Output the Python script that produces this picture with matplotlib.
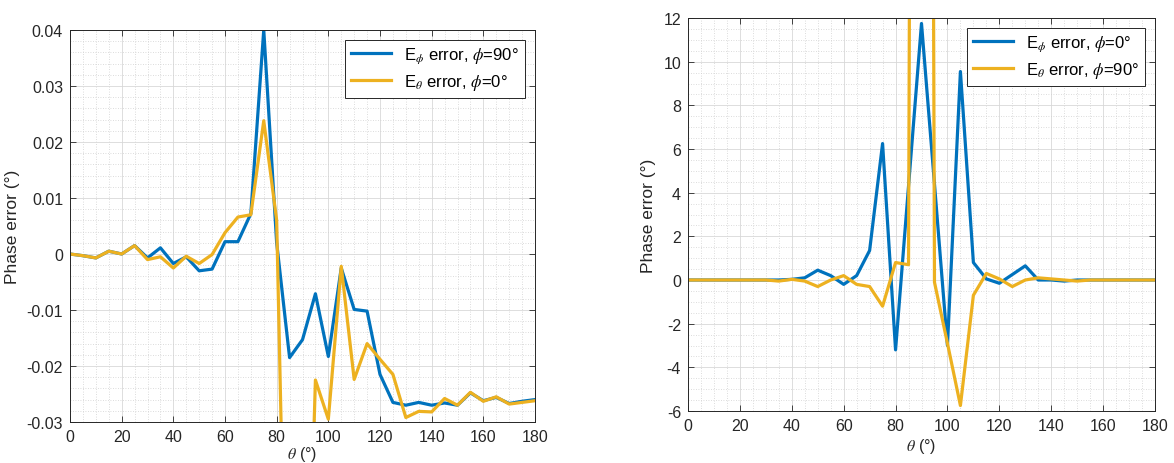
import matplotlib
matplotlib.use("Agg")
import matplotlib.pyplot as plt
from matplotlib.ticker import MultipleLocator, FuncFormatter

plt.rcParams["font.family"] = ["Liberation Sans", "DejaVu Sans"]
plt.rcParams["mathtext.fontset"] = "stix"
plt.rcParams["axes.unicode_minus"] = False

BLUE = "#0072BD"
ORANGE = "#EDB120"
INK = "#262626"

theta = [0, 5, 10, 15, 20, 25, 30, 35, 40, 45, 50, 55, 60, 65, 70, 75, 80, 85,
         90, 95, 100, 105, 110, 115, 120, 125, 130, 135, 140, 145, 150, 155,
         160, 165, 170, 175, 180]

# left panel: E_phi at phi=90, E_theta at phi=0
left_ephi = [0.0, -0.0003, -0.0007, 0.0005, 0.0, 0.0015, -0.0007, 0.0011,
             -0.0017, -0.0005, -0.0030, -0.0027, 0.0022, 0.0022, 0.0072,
             0.0400, 0.0020, -0.0185, -0.0153, -0.0071, -0.0183, -0.0025,
             -0.0099, -0.0102, -0.0215, -0.0265, -0.0270, -0.0265, -0.0270,
             -0.0266, -0.0270, -0.0248, -0.0262, -0.0256, -0.0267, -0.0263,
             -0.0260]
left_etheta = [0.0, -0.0003, -0.0007, 0.0005, 0.0, 0.0015, -0.0010, -0.0005,
               -0.0025, -0.0004, -0.0017, -0.0001, 0.0038, 0.0066, 0.0070,
               0.0238, 0.0060, -0.1000, -0.1000, -0.0225, -0.0295, -0.0022,
               -0.0224, -0.0160, -0.0188, -0.0215, -0.0292, -0.0281, -0.0282,
               -0.0258, -0.0270, -0.0247, -0.0263, -0.0255, -0.0268, -0.0265,
               -0.0262]

# right panel: E_phi at phi=0, E_theta at phi=90
right_ephi = [0, 0, 0, 0, 0, 0, 0, 0, 0.03, 0.1, 0.45, 0.2, -0.2, 0.2, 1.35,
              6.25, -3.2, 4.3, 11.75, 4.4, -3.0, 9.55, 0.8, 0.05, -0.15, 0.25,
              0.65, 0.0, 0.0, -0.05, 0, 0, 0, 0, 0, 0, 0]
right_etheta = [0, 0, 0, 0, 0, 0, 0, -0.05, 0.03, -0.05, -0.3, 0.0, 0.2, -0.2,
                -0.3, -1.2, 0.8, 0.7, 180.0, -0.1, -2.9, -5.75, -0.7, 0.3,
                0.05, -0.3, 0.0, 0.1, 0.05, 0.0, -0.05, 0, 0, 0, 0, 0, 0]

left_labels = [r"E$_{\phi}$ error, $\phi$=90°", r"E$_{\theta}$ error, $\phi$=0°"]
right_labels = [r"E$_{\phi}$ error, $\phi$=0°", r"E$_{\theta}$ error, $\phi$=90°"]

W, H = 1174, 464
fig = plt.figure(figsize=(W / 100, H / 100), dpi=100)
ax1 = fig.add_axes([70 / W, 1 - 423 / H, 465 / W, 392 / H])
ax2 = fig.add_axes([688 / W, 1 - 412 / H, 467 / W, 393 / H])


def style(ax, ylim, ystep, yminor, xpad):
    ax.set_xlim(0, 180)
    ax.set_ylim(*ylim)
    ax.xaxis.set_major_locator(MultipleLocator(20))
    ax.xaxis.set_minor_locator(MultipleLocator(5))
    ax.yaxis.set_major_locator(MultipleLocator(ystep))
    ax.yaxis.set_minor_locator(MultipleLocator(yminor))
    ax.yaxis.set_major_formatter(FuncFormatter(lambda v, p: f"{round(v, 6):g}"))
    ax.grid(which="major", color="#d8d8d8", lw=0.6, ls="-")
    ax.grid(which="minor", color="#d0d0d0", lw=0.6, ls=(0, (1, 2)))
    ax.set_axisbelow(True)
    ax.tick_params(which="major", direction="in", length=4, width=0.6,
                   top=True, right=True, colors=INK, labelsize=11.5, pad=5)
    ax.tick_params(which="minor", length=0)
    for s in ax.spines.values():
        s.set_color(INK)
        s.set_linewidth(0.7)
    ax.set_xlabel(r"$\theta$ (°)", fontsize=11.5, color=INK, labelpad=xpad)
    ax.set_ylabel("Phase error (°)", fontsize=12.5, color=INK, labelpad=5)


ax1.plot(theta, left_ephi, color=BLUE, lw=2.3, label=left_labels[0])
ax1.plot(theta, left_etheta, color=ORANGE, lw=2.3, label=left_labels[1])
style(ax1, (-0.03, 0.04), 0.01, 0.002, xpad=0)

ax2.plot(theta, right_ephi, color=BLUE, lw=2.3, label=right_labels[0])
ax2.plot(theta, right_etheta, color=ORANGE, lw=2.3, label=right_labels[1])
style(ax2, (-6, 12), 2, 0.5, xpad=2)

for ax in (ax1, ax2):
    leg = ax.legend(loc="upper right", fontsize=12, handlelength=2.4,
                    fancybox=False, framealpha=1, edgecolor=INK,
                    borderaxespad=0.6, borderpad=0.35, labelspacing=0.4)
    leg.get_frame().set_linewidth(0.7)

fig.savefig("out.png", dpi=100)
